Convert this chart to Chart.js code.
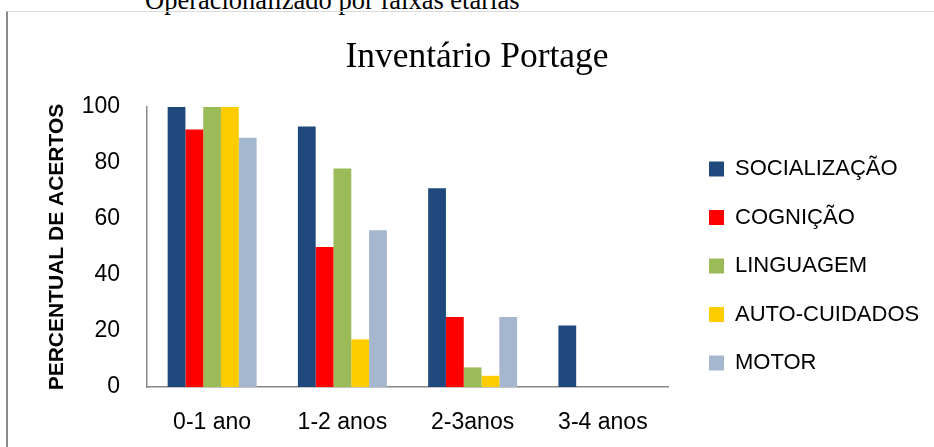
<!DOCTYPE html>
<html lang="pt">
<head>
<meta charset="utf-8">
<title>Inventário Portage</title>
<script src="https://cdn.jsdelivr.net/npm/chart.js@4.4.1/dist/chart.umd.min.js"></script>
<style>
  html, body { margin: 0; padding: 0; background: #fff; }
  #wrap { position: relative; width: 934px; height: 447px; overflow: hidden; }
  #frame {
    position: absolute; left: 6px; top: 11px; right: -4px; bottom: -4px;
    border-left: 2px solid #8a8a8a; border-top: 1px solid #d9d9d9;
  }
  #caption {
    position: absolute; left: 145px; top: -15px;
    font: 26.5px "Liberation Serif", "Times New Roman", serif;
    line-height: 30px; white-space: nowrap; color: #000;
  }
  #chart { position: absolute; left: 0; top: 0; }
</style>
</head>
<body>
<div id="wrap">
  <div id="caption">Operacionalizado por faixas etárias</div>
  <div id="frame"></div>
  <canvas id="chart" width="934" height="447"></canvas>
</div>
<script>
/* =========================
   DATA
========================= */

const categories = ["0-1 ano", "1-2 anos", "2-3anos", "3-4 anos"];

const socializacao = [100, 93, 71, 22];
const cognicao     = [92, 50, 25, 0];
const linguagem    = [100, 78, 7, 0];
const autoCuidados = [100, 17, 4, 0];
const motor        = [89, 56, 25, 0];

const yTicks = [0, 20, 40, 60, 80, 100];

/* =========================
   CHART
========================= */

const SANS = "'Liberation Sans', Arial, sans-serif";
const AXIS_GREY = "#888888";

const series = [
  { label: "SOCIALIZAÇÃO", data: socializacao, color: "#1F497D" },
  { label: "COGNIÇÃO", data: cognicao, color: "#FF0000" },
  { label: "LINGUAGEM", data: linguagem, color: "#9BBB59" },
  { label: "AUTO-CUIDADOS", data: autoCuidados, color: "#FFCC00" },
  { label: "MOTOR", data: motor, color: "#A5B7CF" }
];

// the legend box gets capped in width; let it reach the right edge so
// the long labels are not clipped
const legendRoom = {
  id: "legendRoom",
  afterLayout(chart) {
    const lg = chart.legend;
    if (!lg) return;
    lg.right = chart.width;
    lg.width = lg.right - lg.left;
  }
};

const ctx = document.getElementById("chart").getContext("2d");

new Chart(ctx, {
  type: "bar",
  data: {
    labels: categories,
    datasets: series.map(s => ({
      label: s.label,
      data: s.data,
      backgroundColor: s.color,
      borderWidth: 0,
      categoryPercentage: 0.683,
      barPercentage: 1
    }))
  },
  plugins: [legendRoom],
  options: {
    responsive: false,
    animation: false,
    devicePixelRatio: 1,
    layout: {
      padding: { left: 66, right: 46, top: 0, bottom: 10.4 }
    },
    plugins: {
      tooltip: { enabled: false },
      title: {
        display: true,
        text: "Inventário Portage",
        color: "#000",
        font: { family: "'Liberation Serif', 'Times New Roman', serif", size: 35.5, weight: "normal" },
        padding: { top: 36, bottom: 28.4 }
      },
      legend: {
        position: "right",
        align: "center",
        // empty title only used as a spacer to push the items down
        title: { display: true, text: "", font: { size: 12 }, padding: 40.5 },
        labels: {
          boxWidth: 15,
          boxHeight: 15,
          padding: 26.5,
          color: "#000",
          font: { family: SANS, size: 22 }
        }
      }
    },
    scales: {
      x: {
        grid: { display: false, drawTicks: false },
        border: { display: true, color: AXIS_GREY, width: 1.5 },
        ticks: {
          color: "#000",
          font: { family: SANS, size: 23 },
          padding: 22
        },
        afterFit: scale => { scale.height = 49.6; }
      },
      y: {
        min: 0,
        max: 100,
        afterBuildTicks: scale => {
          scale.ticks = yTicks.map(v => ({ value: v }));
        },
        grid: { display: false, drawTicks: false },
        border: { display: true, color: AXIS_GREY, width: 1.5 },
        ticks: {
          color: "#000",
          font: { family: SANS, size: 23 },
          padding: 27
        },
        title: {
          display: true,
          text: "PERCENTUAL DE ACERTOS",
          color: "#000",
          font: { family: SANS, size: 21, weight: "bold" },
          padding: { top: -21.6, bottom: 0 }
        },
        afterFit: scale => { scale.width = 81; }
      },
      // blank right axis: keeps the gap between the plot and the legend
      yGap: {
        position: "right",
        display: false,
        afterFit: scale => { scale.width = 14.5; }
      }
    }
  }
});
</script>
</body>
</html>
